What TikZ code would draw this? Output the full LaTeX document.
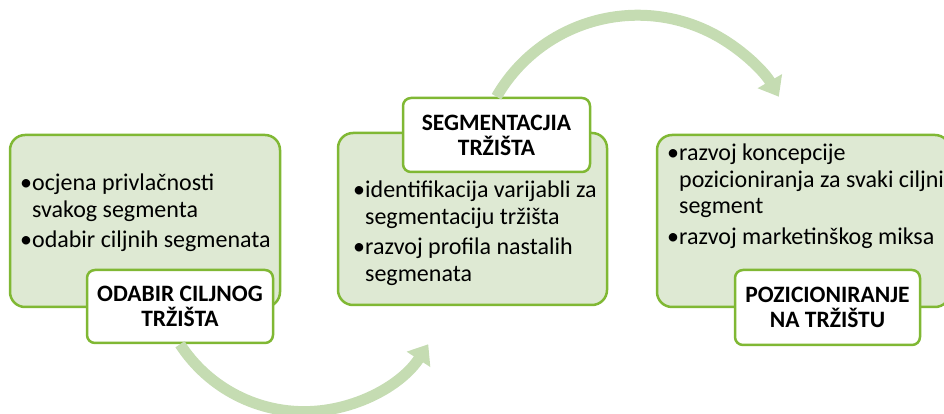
\documentclass[tikz,border=0pt]{standalone}
\usepackage{fontspec}
\setmainfont{Carlito}
\usetikzlibrary{arrows.meta}
\definecolor{kutijaZel}{RGB}{222,233,211}
\definecolor{rubZel}{RGB}{128,184,52}
\definecolor{strelZel}{RGB}{197,220,178}
\newcommand{\uvl}{\hphantom{\textbullet}}

\begin{document}
\begin{tikzpicture}[x = 1pt, y = 1pt,
  kutija/.style = {draw = rubZel, line width = 2.5pt, fill = kutijaZel, rounded corners = 15pt, inner sep = 0pt},
  naslov/.style = {draw = rubZel, line width = 2.5pt, fill = white, rounded corners = 8pt, inner sep = 0pt,
    align = center, font = \fontsize{23.5}{25}\selectfont\bfseries},
  tekst/.style = {anchor = north west, align = left, inner sep = 0pt, font = \fontsize{24}{26.5}\selectfont},
  luk/.style = {draw = strelZel, line width = 11pt, -{Triangle[width = 27pt, length = 18pt]}}]
\useasboundingbox (0,0) rectangle (944,414);
\clip (0,0) rectangle (944,414);
% green boxes
\node[kutija, minimum width = 270pt, minimum height = 172pt] (odabirBox) at (145,193) {};
\node[kutija, minimum width = 269pt, minimum height = 172pt] (segBox) at (472.5,195) {};
\node[kutija, minimum width = 293pt, minimum height = 172pt] (pozBox) at (803.5,193) {};
% arrows
\node[naslov, minimum width = 186pt, minimum height = 73pt] (odabir) at (180,107.5) {ODABIR CILJNOG\\TRŽIŠTA};
\node[naslov, minimum width = 187pt, minimum height = 74pt] (seg) at (496.5,279) {SEGMENTACJIA\\TRŽIŠTA};
\draw[luk] (odabir.south) arc[start angle = 213, end angle = 327, radius = 148];
\draw[luk] (seg.north) arc[start angle = 150, end angle = 30, radius = 163];
\node[naslov, minimum width = 185pt, minimum height = 75pt] (poz) at (827.5,106.5) {POZICIONIRANJE\\NA TRŽIŠTU};
% bullets
\node[tekst] (odabirTekst) at (20,240) {\textbullet ocjena privlačnosti\\ \uvl svakog segmenta\\[4pt] \textbullet odabir ciljnih segmenata};
\node[tekst] (segTekst) at (353,233) {\textbullet identifikacija varijabli za\\ \uvl segmentaciju tržišta\\[4pt] \textbullet razvoj profila nastalih\\ \uvl segmenata};
\node[tekst] (pozTekst) at (667,270) {\textbullet razvoj koncepcije\\ \uvl pozicioniranja za svaki ciljni\\ \uvl segment\\[4pt] \textbullet razvoj marketinškog miksa};
\end{tikzpicture}
\end{document}
